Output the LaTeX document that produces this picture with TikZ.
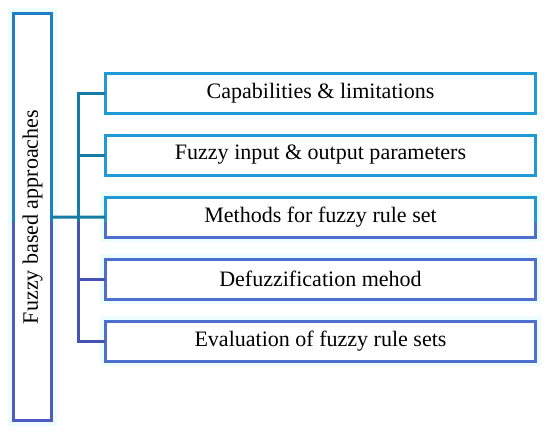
\documentclass[tikz,border=0pt]{standalone}
\usepackage{fontspec}
\setmainfont{Liberation Serif}
\usetikzlibrary{positioning, calc}
\definecolor{topbox}{HTML}{1E9BD7}
\definecolor{toptall}{HTML}{1F7FC6}
\definecolor{topline}{HTML}{177BA3}
\definecolor{botbox}{HTML}{4F6FCF}
\definecolor{bottall}{HTML}{4E5BC0}
\definecolor{botline}{HTML}{4652B3}
\definecolor{glow}{HTML}{EDFDFF}
\tikzstyle{item} = [
    rectangle, minimum width=12.9cm, minimum height=1.2cm, outer sep=0pt,
    line width=0.09cm, fill=white, text centered,
    font=\fontsize{18.8}{22}\selectfont
]
\tikzstyle{link} = [line width=0.09cm]
\tikzstyle{halo} = [preaction={draw=glow, line width=0.3cm}]

\begin{document}
\begin{tikzpicture}[x=0.03cm, y=-0.03cm, node distance=0.66cm]
        \useasboundingbox (0,0) rectangle (550,434);
        \coordinate (ysplit) at (0,222);

        % main block
        \node[item, halo, minimum width=1.14cm, minimum height=12.21cm,
              label={[rotate=90, font=\fontsize{18.8}{22}\selectfont]center:Fuzzy based approaches}]
              (tall) at (32.5,217) {};

        \node[item, draw=topbox] (caps) at (320.5,93)
            {Capabilities \& limitations};
        \node[item, draw=topbox, below=of caps] (params)
            {Fuzzy input \& output parameters};
        \node[item, halo, below=of params] (rules)
            {Methods for fuzzy rule set};
        \node[item, halo, draw=botbox, below=of rules] (defuzz)
            {Defuzzification mehod};
        \node[item, halo, draw=botbox, below=of defuzz] (eval)
            {Evaluation of fuzzy rule sets};

        % two-colour borders
        \draw[link, toptall] (tall.west |- ysplit) |- (tall.north) -| (tall.east |- ysplit);
        \draw[link, bottall] (tall.west |- ysplit) |- (tall.south) -| (tall.east |- ysplit);
        \draw[link, topbox] (rules.west |- ysplit) |- (rules.north) -| (rules.east |- ysplit);
        \draw[link, botbox] (rules.west |- ysplit) |- (rules.south) -| (rules.east |- ysplit);

        % connectors
        \coordinate (trunk) at ($(caps.west |- ysplit)+(-26.5,0)$);
        \draw[link, topline] (caps.west) -| (trunk);
        \draw[link, topline] (params.west) -- (params.west -| trunk);
        \draw[link, topline] (tall.east) -- (rules.west);
        \draw[link, botline] (eval.west) -| (trunk);
        \draw[link, botline] (defuzz.west) -- (defuzz.west -| trunk);
    \end{tikzpicture}
\end{document}
